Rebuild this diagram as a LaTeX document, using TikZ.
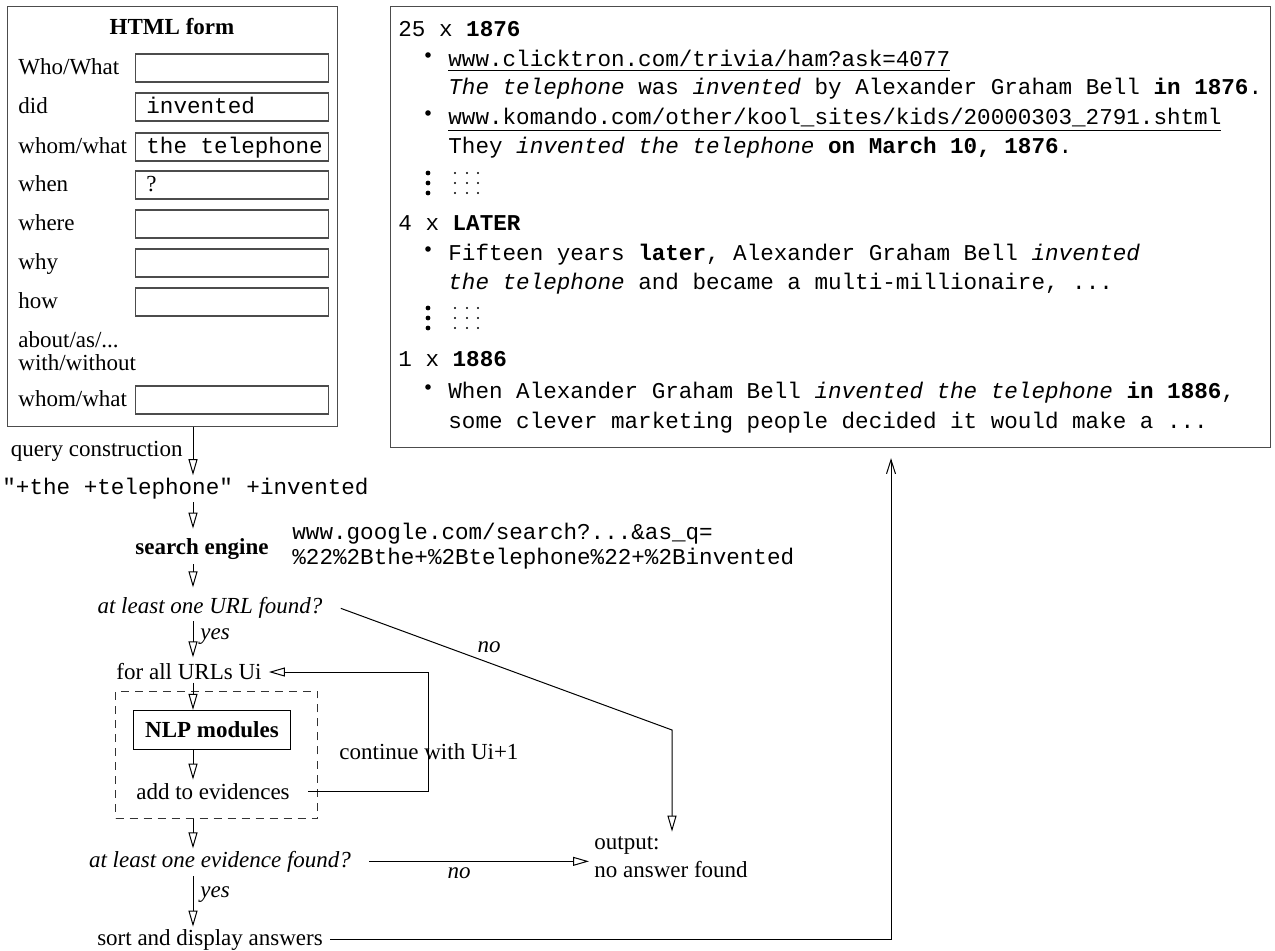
\documentclass[tikz,border=0pt]{standalone}
\usepackage{fontspec}
\setmainfont{Liberation Serif}
\setmonofont{Liberation Mono}
\usetikzlibrary{arrows.meta}
\newcommand{\figsize}{\fontsize{11.5pt}{13pt}\selectfont}
\newcommand{\monosize}{\fontsize{11.3pt}{13pt}\selectfont}

\begin{document}
\begin{tikzpicture}[
  x=0.5pt,
  y=-0.5pt,
  every node/.style={font=\figsize, inner sep=0pt},
  txt/.style={anchor=base west},
  mono/.style={anchor=base west, font=\monosize\ttfamily},
  cond/.style={anchor=base, font=\figsize\itshape},
  frame/.style={draw=black!70, line width=0.6pt, anchor=north west},
  field/.style={draw=black!70, line width=0.6pt, anchor=west,
                minimum width=96.5pt, minimum height=14pt},
  module/.style={draw, line width=0.6pt, font=\figsize\bfseries,
                 minimum width=78.5pt, minimum height=19.5pt},
  loopbox/.style={draw=black!80, line width=0.5pt, dash pattern=on 4pt off 3pt,
                  anchor=north west, minimum width=101pt, minimum height=63.5pt},
  flow/.style={line width=0.5pt, -{Triangle[open, length=8pt, width=4.5pt]}},
  back/.style={line width=0.5pt, -{Straight Barb[length=7pt, width=4.5pt]}}
]
  \useasboundingbox (0,0) rectangle (1275,951);

  % ---- the form ----
  \node[frame, minimum width=165pt, minimum height=210pt] (form) at (7,6) {};
  \node[anchor=base, font=\figsize\bfseries] (formtitle) at (172,35) {HTML form};
  \foreach \y/\lab [count=\i] in {68/{Who/What}, 107/did, 147/{whom/what},
      185/when, 224/where, 263/why, 302/how, 341/{about/as/...},
      364/{with/without}, 400/{whom/what}}
    \node[txt] (lab\i) at (18,\y+7) {\lab};
  \foreach \y [count=\i] in {68,107,147,185,224,263,302,400}
    \node[field] (field\i) at (135,\y) {};
  \node[mono] (verb) at (146,114) {invented};
  \node[mono] (object) at (146,154) {the telephone};
  \node[txt] (asked) at (146,192) {?};

  % ---- the answers ----
  \node[frame, minimum width=440pt, minimum height=220.5pt] (results) at (390,6) {};
  \node[mono] (hit1) at (398,37) {25 x \textbf{1876}};
  \node[mono] (src1) at (448,67) {\underline{www.clicktron.com/trivia/ham?ask=4077}};
  \node[mono] (txt1) at (448,95) {\textit{The telephone} was \textit{invented} by Alexander Graham Bell \textbf{in 1876}.};
  \node[mono] (src2) at (448,125) {\underline{www.komando.com/other/kool\_sites/kids/20000303\_2791.shtml}};
  \node[mono] (txt2) at (448,154) {They \textit{invented the telephone} \textbf{on March 10, 1876}.};
  \node[mono] (hit2) at (398,231) {4 x \textbf{LATER}};
  \node[mono] (txt3) at (448,261) {Fifteen years \textbf{later}, Alexander Graham Bell \textit{invented}};
  \node[mono] (txt4) at (448,290) {\textit{the telephone} and became a multi-millionaire, ...};
  \node[mono] (hit3) at (398,367) {1 x \textbf{1886}};
  \node[mono] (txt5) at (448,399) {When Alexander Graham Bell \textit{invented the telephone} \textbf{in 1886},};
  \node[mono] (txt6) at (448,429) {some clever marketing people decided it would make a ...};

  % bullets and elision marks
  \foreach \y in {60,118,254,392}
    \fill (428,\y-5) circle[radius=1.4pt];
  \foreach \y in {183,318}
    \foreach \d in {-10,0,10} {
      \fill (428,\y+\d) circle[radius=1.2pt];
      \foreach \x in {455,467,478}
        \fill (\x,\y+\d) circle[radius=0.55pt];
    }

  % ---- the search loop ----
  \node[anchor=base east] (qc) at (183,457) {query construction};
  \node[mono] (qstr) at (2,495) {"+the +telephone" +invented};
  \node[anchor=base, font=\figsize\bfseries] (engine) at (202,555) {search engine};
  \node[mono] (url1) at (292,540) {www.google.com/search?...\&as\_q=};
  \node[mono] (url2) at (292,565) {\%22\%2Bthe+\%2Btelephone\%22+\%2Binvented};
  \node[cond] (anyurl) at (210,614) {at least one URL found?};
  \node[cond, anchor=base west] (yes1) at (200,640) {yes};
  \node[anchor=base] (urls) at (189,680) {for all URLs Ui};
  \node[loopbox] (loop) at (115,691) {};
  \node[module] (nlp) at (212,730) {NLP modules};
  \node[anchor=base] (add) at (213,799) {add to evidences};
  \node[txt] (next) at (339,760) {continue with Ui+1};
  \node[cond] (anyev) at (220,867) {at least one evidence found?};
  \node[cond, anchor=base west] (yes2) at (200,897) {yes};
  \node[anchor=base] (sort) at (210,945) {sort and display answers};
  \node[txt] (out) at (594,849) {output:};
  \node[txt] (none) at (594,877) {no answer found};
  \node[cond] (no1) at (489,653) {no};
  \node[cond] (no2) at (459,878) {no};

  \coordinate (col) at (193,0);
  \coordinate (bend) at (672,730);
  \coordinate (ret) at (891,0);

  % ---- main column ----
  \draw[flow] (form.south -| col) -- ([yshift=1.5pt]qstr.north -| col);
  \draw[flow] ([yshift=-1pt]qstr.south -| col) -- ([yshift=5pt]engine.north -| col);
  \draw[flow] ([yshift=-2pt]engine.south -| col) -- ([yshift=5pt]anyurl.north -| col);
  \draw[flow] ([yshift=-1pt]anyurl.south -| col) -- ([yshift=3pt]urls.north -| col);
  \draw[flow] ([yshift=-1pt]urls.south -| col) -- (nlp.north -| col);
  \draw[flow] (nlp.south -| col) -- ([yshift=1.5pt]add.north -| col);
  \draw[flow] (loop.south -| col) -- ([yshift=1pt]anyev.north -| col);
  \draw[flow] ([yshift=-2pt]anyev.south -| col) -- ([yshift=1pt]sort.north -| col);

  % ---- side branches ----
  \draw[flow] ([xshift=9pt]add.east) -- ++(120,0) |- ([xshift=3.5pt]urls.east);
  \draw[flow] ([xshift=9pt]anyurl.east) -- (bend) -- ([yshift=2pt]out.north -| bend);
  \draw[flow] ([xshift=9pt]anyev.east) -- ([xshift=-2.5pt]anyev.east -| out.west);
  \draw[back] ([xshift=3.5pt]sort.east) -| ([yshift=-5pt]results.south -| ret);
\end{tikzpicture}
\end{document}
